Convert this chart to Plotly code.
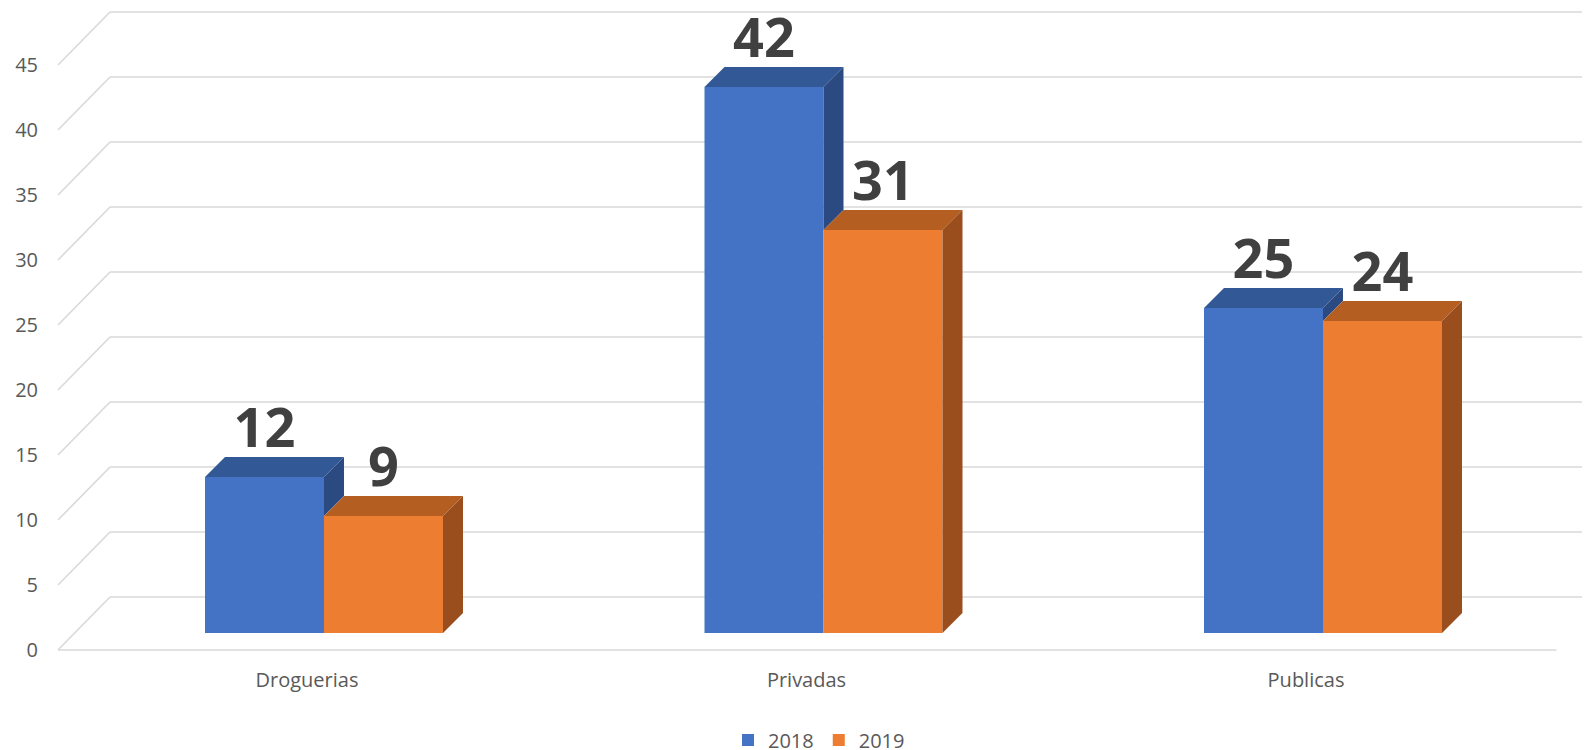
import plotly.graph_objects as go

# ---- data ----
categories = ["Droguerias", "Privadas", "Publicas"]
series_names = ["2018", "2019"]
values_2018 = [12, 42, 25]
values_2019 = [9, 31, 24]
tick_values = [0, 5, 10, 15, 20, 25, 30, 35, 40, 45]

# ---- colours ----
front_colors = ["#4472c4", "#ed7d31"]
top_colors = ["#335896", "#b55e22"]
side_colors = ["#2b4a81", "#9a4e1d"]
grid_color = "#d9d9d9"

# ---- geometry (layout constants, page pixels; page body has an 8px margin) ----
PAGE_OFF = 8
W, H = 1590 - PAGE_OFF, 750 - PAGE_OFF
PLOT_LEFT_PAGE, PLOT_BOTTOM_PAGE = 45, 662
ML = PLOT_LEFT_PAGE - PAGE_OFF
plot_bottom = PLOT_BOTTOM_PAGE - PAGE_OFF
MB = H - plot_bottom
PX_PER_CAT = 499.5
PX_PER_UNIT = 13.0
CAT0_PX = 324.0 - PAGE_OFF     # x of first category (bar front centre)
ZERO_PX = 633.0 - PAGE_OFF     # y of value 0 on bar front face

bar_w = 119 / PX_PER_CAT
dx = 20 / PX_PER_CAT
dy = 20 / PX_PER_UNIT
front_off_x = (58 - PAGE_OFF - CAT0_PX) / PX_PER_CAT
back_off_x = (110 - PAGE_OFF - CAT0_PX) / PX_PER_CAT
front_off_y = -(650 - PAGE_OFF - ZERO_PX) / PX_PER_UNIT
back_off_y = (ZERO_PX - (597 - PAGE_OFF)) / PX_PER_UNIT
label_drop = 3 / PX_PER_UNIT

x_range = [(ML - CAT0_PX) / PX_PER_CAT, (W - CAT0_PX) / PX_PER_CAT]
y_range = [(ZERO_PX - plot_bottom) / PX_PER_UNIT, ZERO_PX / PX_PER_UNIT]
y2_range = [y_range[0] - front_off_y, y_range[1] - front_off_y]

fig = go.Figure()

# gridlines on back wall + diagonals + floor front line
shapes = []
for v in tick_values:
    shapes.append(dict(type="line", xref="x", yref="y", layer="below",
                       x0=back_off_x, x1=x_range[1] + 1, y0=v + back_off_y, y1=v + back_off_y,
                       line=dict(color=grid_color, width=1.6)))
    shapes.append(dict(type="line", xref="x", yref="y", layer="below",
                       x0=front_off_x, x1=back_off_x, y0=v + front_off_y, y1=v + back_off_y,
                       line=dict(color=grid_color, width=1.6)))
shapes.append(dict(type="line", xref="x", yref="y", layer="below",
                   x0=front_off_x, x1=front_off_x + len(categories), y0=front_off_y, y1=front_off_y,
                   line=dict(color=grid_color, width=1.6)))

xs = list(range(len(categories)))
all_vals = [values_2018, values_2019]
offsets = [-bar_w, 0.0]

# front faces
for s in range(2):
    fig.add_trace(go.Bar(
        x=xs, y=all_vals[s], width=[bar_w] * len(xs), offset=offsets[s],
        name=series_names[s], marker=dict(color=front_colors[s], line=dict(width=0)),
        hoverinfo="skip",
    ))

# top and side faces
for s in range(2):
    for i, v in enumerate(all_vals[s]):
        x0 = i + offsets[s]
        x1 = x0 + bar_w
        fig.add_trace(go.Scatter(
            x=[x0, x1, x1 + dx, x0 + dx, x0], y=[v, v, v + dy, v + dy, v],
            mode="lines", fill="toself", fillcolor=top_colors[s],
            line=dict(width=0, color=top_colors[s]), showlegend=False, hoverinfo="skip"))
        lo = 0
        if s == 0:
            lo = min(values_2019[i], v)
        if v > lo:
            fig.add_trace(go.Scatter(
                x=[x1, x1 + dx, x1 + dx, x1, x1], y=[lo, lo + dy, v + dy, v, lo],
                mode="lines", fill="toself", fillcolor=side_colors[s],
                line=dict(width=0, color=side_colors[s]), showlegend=False, hoverinfo="skip"))

# data labels
for s in range(2):
    fig.add_trace(go.Scatter(
        x=[i + offsets[s] + bar_w / 2 for i in xs],
        y=[v + dy - label_drop for v in all_vals[s]],
        mode="text", text=[str(v) for v in all_vals[s]], textposition="top center",
        textfont=dict(family="Open Sans", size=54, color="#404040", weight="bold"),
        showlegend=False, hoverinfo="skip", cliponaxis=False))

fig.add_trace(go.Scatter(x=[None], y=[None], yaxis="y2", showlegend=False, hoverinfo="skip"))

fig.update_layout(
    width=W, height=H,
    margin=dict(l=ML, r=0, t=0, b=MB, autoexpand=False),
    plot_bgcolor="white", paper_bgcolor="white",
    shapes=shapes,
    font=dict(family="Open Sans", size=20, color="#595959"),
    xaxis=dict(range=x_range, showgrid=False, zeroline=False, showline=False,
               tickmode="array", tickvals=[i - 17 / PX_PER_CAT for i in xs], ticktext=categories,
               ticks="", tickfont=dict(size=20, color="#595959"), ticklabelstandoff=4,
               fixedrange=True, automargin=False),
    yaxis=dict(range=y_range, showgrid=False, zeroline=False, showline=False,
               showticklabels=False, ticks="", fixedrange=True, automargin=False),
    yaxis2=dict(range=y2_range, overlaying="y", side="left", showgrid=False, zeroline=False,
                showline=False, tickmode="array", tickvals=tick_values, ticks="",
                tickfont=dict(size=20, color="#595959"), ticklabelstandoff=6, fixedrange=True,
                automargin=False),
    showlegend=True,
    legend=dict(orientation="h", x=(720 - ML) / (W - ML), xanchor="left",
                y=(plot_bottom - (740 - PAGE_OFF)) / plot_bottom, yanchor="middle",
                font=dict(size=20, color="#595959"), itemwidth=30, traceorder="normal"),
)

fig.write_html("out.html")
